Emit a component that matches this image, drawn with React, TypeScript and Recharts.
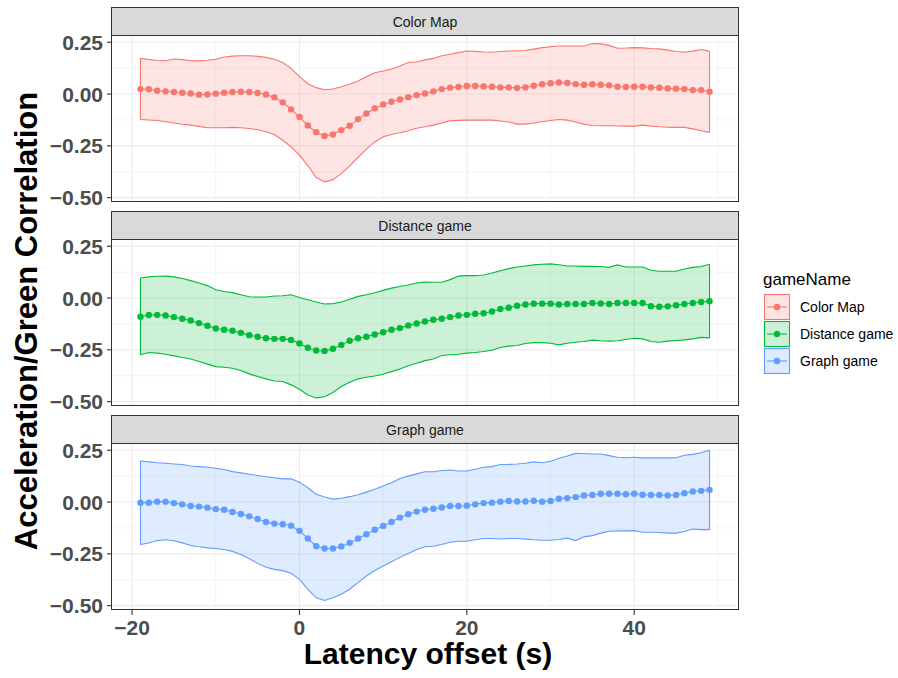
import React from "react";
import { ComposedChart, Area, Line, XAxis, YAxis, CartesianGrid, ReferenceLine } from "recharts";

// latency offsets (s), one point per second
const OFFSETS = [
  -19, -18, -17, -16, -15, -14, -13, -12, -11, -10,
  -9, -8, -7, -6, -5, -4, -3, -2, -1, 0,
  1, 2, 3, 4, 5, 6, 7, 8, 9, 10,
  11, 12, 13, 14, 15, 16, 17, 18, 19, 20,
  21, 22, 23, 24, 25, 26, 27, 28, 29, 30,
  31, 32, 33, 34, 35, 36, 37, 38, 39, 40,
  41, 42, 43, 44, 45, 46, 47, 48, 49,
];

const colorMapMean = [
  0.024, 0.023, 0.016, 0.013, 0.010, 0.006, 0.003, -0.003, -0.002, 0.002,
  0.006, 0.010, 0.011, 0.010, 0.005, -0.002, -0.016, -0.040, -0.074, -0.110,
  -0.152, -0.184, -0.202, -0.195, -0.174, -0.153, -0.121, -0.094, -0.069, -0.050,
  -0.037, -0.026, -0.015, -0.005, 0.003, 0.013, 0.024, 0.031, 0.034, 0.039,
  0.039, 0.037, 0.035, 0.032, 0.032, 0.029, 0.032, 0.040, 0.047, 0.052,
  0.056, 0.053, 0.048, 0.045, 0.047, 0.045, 0.042, 0.035, 0.034, 0.035,
  0.035, 0.032, 0.031, 0.027, 0.026, 0.024, 0.019, 0.019, 0.011,
];
const colorMapUpper = [
  0.173, 0.166, 0.163, 0.161, 0.169, 0.166, 0.161, 0.160, 0.163, 0.168,
  0.179, 0.183, 0.185, 0.185, 0.182, 0.177, 0.168, 0.152, 0.124, 0.084,
  0.050, 0.031, 0.021, 0.024, 0.035, 0.047, 0.063, 0.084, 0.103, 0.111,
  0.121, 0.135, 0.152, 0.155, 0.165, 0.172, 0.185, 0.192, 0.200, 0.208,
  0.206, 0.203, 0.202, 0.205, 0.208, 0.209, 0.210, 0.217, 0.224, 0.228,
  0.232, 0.232, 0.232, 0.232, 0.244, 0.242, 0.235, 0.221, 0.222, 0.224,
  0.223, 0.220, 0.218, 0.212, 0.205, 0.202, 0.207, 0.215, 0.206,
];
const colorMapLower = [
  -0.123, -0.125, -0.128, -0.134, -0.140, -0.146, -0.150, -0.156, -0.163, -0.163,
  -0.163, -0.161, -0.163, -0.166, -0.172, -0.182, -0.195, -0.223, -0.255, -0.295,
  -0.345, -0.403, -0.424, -0.413, -0.384, -0.347, -0.306, -0.266, -0.231, -0.206,
  -0.195, -0.187, -0.177, -0.165, -0.158, -0.150, -0.140, -0.129, -0.127, -0.126,
  -0.126, -0.126, -0.126, -0.130, -0.135, -0.145, -0.145, -0.140, -0.134, -0.128,
  -0.123, -0.126, -0.135, -0.145, -0.152, -0.153, -0.153, -0.154, -0.155, -0.155,
  -0.150, -0.155, -0.158, -0.160, -0.161, -0.161, -0.168, -0.177, -0.185,
];

const distanceMean = [
  -0.090, -0.082, -0.081, -0.084, -0.092, -0.100, -0.108, -0.121, -0.134, -0.147,
  -0.153, -0.158, -0.168, -0.179, -0.187, -0.194, -0.197, -0.197, -0.202, -0.219,
  -0.240, -0.253, -0.255, -0.245, -0.226, -0.206, -0.194, -0.187, -0.176, -0.165,
  -0.153, -0.145, -0.132, -0.123, -0.113, -0.105, -0.100, -0.092, -0.084, -0.081,
  -0.076, -0.073, -0.065, -0.053, -0.047, -0.037, -0.031, -0.027, -0.027, -0.027,
  -0.031, -0.029, -0.029, -0.029, -0.024, -0.026, -0.029, -0.024, -0.024, -0.024,
  -0.024, -0.039, -0.042, -0.040, -0.035, -0.029, -0.024, -0.019, -0.015,
];
const distanceUpper = [
  0.097, 0.102, 0.105, 0.106, 0.102, 0.094, 0.084, 0.073, 0.060, 0.040,
  0.032, 0.026, 0.016, 0.006, 0.005, 0.005, 0.010, 0.011, 0.016, 0.003,
  -0.008, -0.019, -0.029, -0.027, -0.019, -0.006, 0.008, 0.016, 0.026, 0.037,
  0.048, 0.056, 0.063, 0.073, 0.077, 0.076, 0.076, 0.089, 0.106, 0.108,
  0.108, 0.111, 0.121, 0.132, 0.142, 0.150, 0.155, 0.160, 0.163, 0.165,
  0.161, 0.155, 0.155, 0.153, 0.153, 0.152, 0.148, 0.160, 0.150, 0.150,
  0.150, 0.134, 0.129, 0.129, 0.129, 0.140, 0.148, 0.152, 0.163,
];
const distanceLower = [
  -0.274, -0.263, -0.266, -0.271, -0.279, -0.287, -0.294, -0.306, -0.319, -0.331,
  -0.334, -0.339, -0.350, -0.366, -0.379, -0.390, -0.400, -0.403, -0.419, -0.440,
  -0.468, -0.482, -0.476, -0.456, -0.427, -0.406, -0.390, -0.382, -0.376, -0.368,
  -0.355, -0.342, -0.327, -0.315, -0.302, -0.294, -0.277, -0.274, -0.271, -0.266,
  -0.263, -0.258, -0.252, -0.239, -0.232, -0.229, -0.219, -0.215, -0.215, -0.218,
  -0.226, -0.218, -0.213, -0.210, -0.203, -0.206, -0.208, -0.206, -0.200, -0.194,
  -0.197, -0.210, -0.213, -0.208, -0.205, -0.202, -0.197, -0.190, -0.192,
];

const graphMean = [
  -0.003, -0.003, 0.002, 0.002, -0.005, -0.011, -0.019, -0.022, -0.027, -0.034,
  -0.037, -0.048, -0.058, -0.069, -0.082, -0.096, -0.104, -0.107, -0.114, -0.139,
  -0.176, -0.213, -0.224, -0.224, -0.214, -0.197, -0.176, -0.155, -0.134, -0.115,
  -0.096, -0.075, -0.059, -0.046, -0.037, -0.032, -0.026, -0.019, -0.019, -0.018,
  -0.011, -0.005, -0.003, 0.002, 0.005, 0.003, 0.003, 0.006, 0.002, 0.005,
  0.016, 0.019, 0.024, 0.032, 0.034, 0.040, 0.040, 0.040, 0.038, 0.040,
  0.035, 0.034, 0.034, 0.032, 0.034, 0.043, 0.051, 0.054, 0.059,
];
const graphUpper = [
  0.198, 0.194, 0.190, 0.187, 0.184, 0.181, 0.174, 0.171, 0.168, 0.163,
  0.157, 0.147, 0.141, 0.134, 0.128, 0.122, 0.117, 0.112, 0.112, 0.096,
  0.069, 0.038, 0.024, 0.014, 0.018, 0.026, 0.035, 0.048, 0.062, 0.077,
  0.093, 0.114, 0.125, 0.136, 0.146, 0.146, 0.152, 0.155, 0.150, 0.150,
  0.158, 0.168, 0.171, 0.181, 0.182, 0.184, 0.187, 0.194, 0.190, 0.197,
  0.211, 0.222, 0.235, 0.234, 0.232, 0.232, 0.224, 0.216, 0.214, 0.216,
  0.213, 0.213, 0.213, 0.213, 0.214, 0.226, 0.230, 0.238, 0.250,
];
const graphLower = [
  -0.205, -0.198, -0.186, -0.182, -0.187, -0.197, -0.210, -0.216, -0.221, -0.224,
  -0.229, -0.238, -0.253, -0.274, -0.296, -0.315, -0.325, -0.331, -0.344, -0.373,
  -0.421, -0.462, -0.475, -0.462, -0.445, -0.421, -0.389, -0.357, -0.330, -0.309,
  -0.288, -0.267, -0.248, -0.229, -0.216, -0.213, -0.205, -0.194, -0.189, -0.189,
  -0.182, -0.176, -0.176, -0.178, -0.176, -0.176, -0.179, -0.182, -0.184, -0.184,
  -0.181, -0.174, -0.186, -0.168, -0.162, -0.150, -0.141, -0.139, -0.139, -0.138,
  -0.146, -0.146, -0.147, -0.150, -0.150, -0.142, -0.130, -0.133, -0.133,
];

const X_TICKS = [-20, 0, 20, 40];
const X_MINOR = [-10, 10, 30, 50];
const Y_TICKS = [-0.5, -0.25, 0, 0.25];
const Y_MINOR = [-0.375, -0.125, 0.125];

const GAMES = [
  { name: "Color Map", color: "#F8766D", mean: colorMapMean, upper: colorMapUpper, lower: colorMapLower },
  { name: "Distance game", color: "#00BA38", mean: distanceMean, upper: distanceUpper, lower: distanceLower },
  { name: "Graph game", color: "#619CFF", mean: graphMean, upper: graphUpper, lower: graphLower },
];

const FONT = '"Liberation Sans", Arial, Helvetica, sans-serif';
const PLOT_LEFT = 112;
const PLOT_W = 626;
const PLOT_H = 167;
const STRIP_H = 28;
const PANEL_PITCH = 204;
const FIRST_TOP = 7;
const PAD = 14; // room above/below the plot so edge tick labels are not clipped

const minus = (s: string) => s.replace("-", "\u2212");
const axisTick = { fontSize: 21, fontWeight: 700, fill: "#4d4d4d", fontFamily: FONT };

function Panel({ game, top, showX }: any) {
  const rows = OFFSETS.map((x, i) => ({
    offset: x,
    mean: game.mean[i],
    band: [game.lower[i], game.upper[i]],
  }));
  const first = rows[0];
  const last = rows[rows.length - 1];
  const plotTop = top + STRIP_H;

  return (
    <>
      <div
        style={{
          position: "absolute",
          left: PLOT_LEFT - 1,
          top,
          width: PLOT_W + 2,
          height: STRIP_H + 1,
          boxSizing: "border-box",
          background: "#d9d9d9",
          border: "1px solid #333333",
          display: "flex",
          alignItems: "center",
          justifyContent: "center",
          fontFamily: FONT,
          fontSize: 14,
          color: "#1a1a1a",
        }}
      >
        {game.name}
      </div>
      <div style={{ position: "absolute", left: 0, top: plotTop - PAD }}>
        <ComposedChart
          width={PLOT_LEFT + PLOT_W + 2}
          height={PLOT_H + PAD + (showX ? 40 : PAD)}
          data={rows}
          margin={{ top: PAD, right: 2, bottom: showX ? 0 : PAD, left: 0 }}
        >
          <CartesianGrid
            stroke="#ebebeb"
            strokeWidth={0.55}
            verticalValues={X_MINOR}
            horizontalValues={Y_MINOR}
          />
          <CartesianGrid
            stroke="#ebebeb"
            strokeWidth={1.1}
            verticalValues={X_TICKS}
            horizontalValues={Y_TICKS}
          />
          <XAxis
            type="number"
            dataKey="offset"
            domain={[-22.4, 52.4]}
            ticks={X_TICKS}
            interval={0}
            allowDataOverflow
            hide={!showX}
            height={40}
            axisLine={false}
            tickLine={{ stroke: "#333333", strokeWidth: 1.1 }}
            tickSize={5}
            tickMargin={5}
            tick={axisTick}
            tickFormatter={(v) => minus(String(v))}
          />
          <YAxis
            type="number"
            domain={[-0.521, 0.285]}
            ticks={Y_TICKS}
            interval={0}
            allowDataOverflow
            width={PLOT_LEFT}
            axisLine={false}
            tickLine={{ stroke: "#333333", strokeWidth: 1.1 }}
            tickSize={5}
            tickMargin={4}
            tick={axisTick}
            tickFormatter={(v) => minus(Number(v).toFixed(2))}
          />
          <Area
            type="linear"
            dataKey="band"
            stroke={game.color}
            strokeWidth={1.1}
            fill={game.color}
            fillOpacity={0.2}
            isAnimationActive={false}
            activeDot={false}
          />
          <ReferenceLine
            segment={[{ x: first.offset, y: first.band[0] }, { x: first.offset, y: first.band[1] }]}
            stroke={game.color}
            strokeWidth={1.1}
          />
          <ReferenceLine
            segment={[{ x: last.offset, y: last.band[0] }, { x: last.offset, y: last.band[1] }]}
            stroke={game.color}
            strokeWidth={1.1}
          />
          <Line
            type="linear"
            dataKey="mean"
            stroke={game.color}
            strokeWidth={1.1}
            dot={{ r: 3.2, fill: game.color, stroke: "none" }}
            activeDot={false}
            isAnimationActive={false}
          />
        </ComposedChart>
      </div>
      <div
        style={{
          position: "absolute",
          left: PLOT_LEFT - 1,
          top: plotTop,
          width: PLOT_W + 2,
          height: PLOT_H,
          boxSizing: "border-box",
          border: "1px solid #333333",
          pointerEvents: "none",
        }}
      />
    </>
  );
}

export default function App() {
  return (
    <div
      style={{
        position: "absolute",
        left: 0,
        top: 0,
        width: 898,
        height: 678,
        background: "#ffffff",
        overflow: "hidden",
      }}
    >
      {GAMES.map((g, i) => (
        <Panel key={g.name} game={g} top={FIRST_TOP + i * PANEL_PITCH} showX={i === GAMES.length - 1} />
      ))}
      <svg
        width={898}
        height={678}
        style={{ position: "absolute", left: 0, top: 0, pointerEvents: "none" }}
        fontFamily={FONT}
      >
        <text
          x={37}
          y={321}
          transform="rotate(-90 37 321)"
          textAnchor="middle"
          fontSize={31}
          fontWeight={700}
          fill="#000"
        >
          Acceleration/Green Correlation
        </text>
        <text x={428} y={664} textAnchor="middle" fontSize={30} fontWeight={700} fill="#000">
          Latency offset (s)
        </text>
        <text x={763} y={285} fontSize={17} fill="#000">
          gameName
        </text>
        {GAMES.map((g, i) => {
          const y0 = 294 + i * 27;
          return (
            <g key={g.name}>
              <rect x={764.5} y={y0 + 0.5} width={25} height={25} fill={g.color} fillOpacity={0.2} stroke={g.color} strokeWidth={1.1} />
              <line x1={767} x2={787} y1={y0 + 13} y2={y0 + 13} stroke={g.color} strokeWidth={1.1} />
              <circle cx={777} cy={y0 + 13} r={3.2} fill={g.color} />
              <text x={800} y={y0 + 18} fontSize={14} fill="#000">
                {g.name}
              </text>
            </g>
          );
        })}
      </svg>
    </div>
  );
}
